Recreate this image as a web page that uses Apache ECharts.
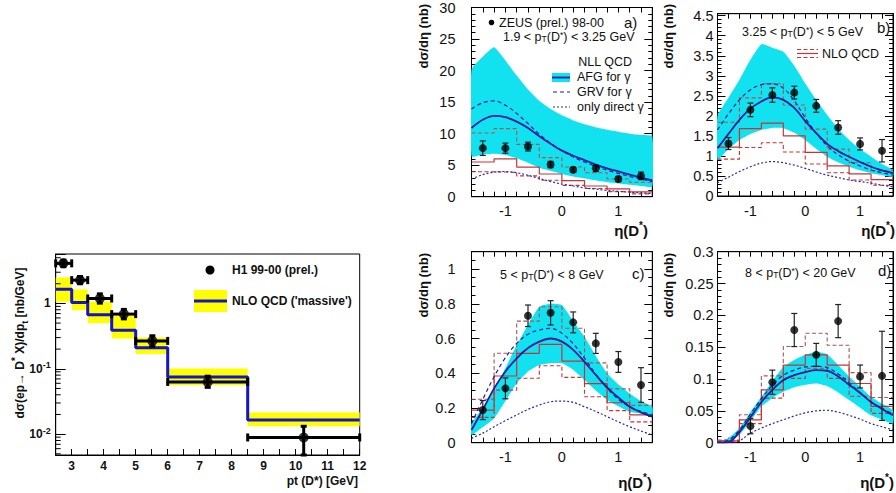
<!DOCTYPE html>
<html>
<head>
<meta charset="utf-8">
<script src="https://cdn.jsdelivr.net/npm/echarts@6.0.0/dist/echarts.min.js"></script>
<style>
html,body{margin:0;padding:0;background:#fff;}
#chart{width:896px;height:493px;}
</style>
</head>
<body>
<div id="chart"></div>
<script>
// ===================== DATA =====================
// ---- Left: H1 D* pt spectrum (log y) ----
const h1Edges   = [2.5, 3.0, 3.5, 4.25, 5.0, 6.0, 8.5, 12.0];
const h1X       = [2.74, 3.26, 3.88, 4.63, 5.52, 7.25, 10.25];
const h1Y       = [4.1, 2.27, 1.19, 0.686, 0.267, 0.063, 0.0089];
const h1ErrLo   = [3.65, 2.0, 1.01, 0.58, 0.222, 0.052, 0.0048];
const h1ErrHi   = [4.6, 2.58, 1.40, 0.81, 0.32, 0.077, 0.0132];
const nloMassive   = [1.64, 1.03, 0.67, 0.39, 0.21, 0.075, 0.0164];
const nloMassiveLo = [1.06, 0.79, 0.50, 0.29, 0.168, 0.056, 0.0132];
const nloMassiveHi = [2.5, 1.64, 1.06, 0.64, 0.30, 0.101, 0.0214];
const h1YMinorTicks = [0.005,0.006,0.007,0.008,0.009,0.02,0.03,0.04,0.05,0.06,0.07,0.08,0.09,
                       0.2,0.3,0.4,0.5,0.6,0.7,0.8,0.9,2,3,4,5];

// ---- ZEUS eta distributions ----
const etaEdges  = [-1.6, -1.2, -0.8, -0.4, 0, 0.4, 0.8, 1.2, 1.6];
const etaPoints = [-1.4, -1.0, -0.6, -0.2, 0.2, 0.6, 1.0, 1.4];
const etaCurve  = [-1.6,-1.4,-1.2,-1.0,-0.8,-0.6,-0.4,-0.2,0,0.2,0.4,0.6,0.8,1.0,1.2,1.4,1.6];

// panel a) 1.9 < pT < 3.25
const aY      = [7.7, 7.7, 7.95, 5.1, 4.26, 4.5, 2.8, 3.3];
const aErr    = [1.15, 0.8, 0.7, 0.5, 0.4, 0.5, 0.4, 0.6];
const aBandHi = [20.2,22.2,23.7,21.6,19.2,17.0,15.2,13.9,12.9,12.1,11.5,11.0,10.6,10.3,10.0,9.8,9.6];
const aBandLo = [6.4,6.7,6.8,6.6,6.1,5.4,4.6,4.1,3.6,3.2,2.9,2.6,2.3,2.1,1.9,1.7,1.6];
const aAFG    = [10.9,12.2,12.8,12.6,11.9,10.9,9.6,8.4,7.3,6.5,5.8,5.1,4.5,4.0,3.5,3.0,2.6];
const aGRV    = [13.9,14.9,15.2,14.5,13.2,11.6,9.9,8.5,7.3,6.3,5.5,4.8,4.2,3.7,3.2,2.8,2.4];
const aDirect = [2.8,3.5,3.9,4.0,3.8,3.4,2.9,2.4,2.0,1.7,1.4,1.2,1.0,0.85,0.7,0.6,0.5];
const aNLO    = [5.5, 6.0, 4.7, 3.6, 2.55, 1.7, 1.25, 0.75];
const aNLOUp  = [10.1, 10.8, 8.3, 6.2, 4.7, 3.8, 2.8, 2.3];
const aNLOLo  = [3.95, 3.85, 3.3, 2.6, 1.8, 1.3, 0.8, 0.45];

// panel b) 3.25 < pT < 5
const bY      = [1.31, 2.15, 2.52, 2.58, 2.25, 1.71, 1.30, 1.13];
const bErr    = [0.15, 0.17, 0.18, 0.16, 0.16, 0.17, 0.15, 0.28];
const bBandHi = [2.0,2.45,2.9,3.4,3.79,3.7,3.6,3.25,2.81,2.4,2.02,1.68,1.40,1.17,0.98,0.8,0.65];
const bBandLo = [0.9,1.17,1.4,1.55,1.65,1.7,1.69,1.58,1.4,1.18,0.98,0.84,0.73,0.64,0.57,0.52,0.48];
const bAFG    = [1.19,1.55,1.9,2.18,2.36,2.46,2.4,2.2,1.87,1.57,1.3,1.12,0.98,0.85,0.73,0.64,0.57];
const bGRV    = [1.65,2.05,2.4,2.65,2.78,2.8,2.69,2.38,1.95,1.57,1.25,1.03,0.87,0.75,0.65,0.58,0.52];
const bDirect = [0.33,0.47,0.61,0.73,0.82,0.86,0.83,0.77,0.69,0.6,0.52,0.46,0.4,0.36,0.32,0.27,0.23];
const bNLO    = [1.22, 1.68, 1.82, 1.50, 1.09, 0.75, 0.55, 0.41];
const bNLOUp  = [1.84, 2.45, 2.80, 2.27, 1.67, 1.17, 0.83, 0.63];
const bNLOLo  = [0.92, 1.21, 1.33, 1.10, 0.80, 0.58, 0.40, 0.27];

// panel c) 5 < pT < 8
const cY      = [0.188, 0.313, 0.731, 0.748, 0.693, 0.572, 0.465, 0.332];
const cErr    = [0.055, 0.06, 0.062, 0.07, 0.06, 0.058, 0.06, 0.1];
const cBandHi = [0.11,0.2,0.303,0.43,0.562,0.68,0.783,0.8,0.793,0.7,0.61,0.5,0.40,0.335,0.284,0.24,0.207];
const cBandLo = [0.044,0.09,0.14,0.24,0.342,0.41,0.447,0.457,0.457,0.42,0.361,0.3,0.246,0.21,0.178,0.167,0.16];
const cAFG    = [0.073,0.19,0.313,0.41,0.486,0.545,0.582,0.6,0.582,0.535,0.466,0.39,0.319,0.26,0.207,0.175,0.15];
const cGRV    = [0.11,0.25,0.38,0.49,0.572,0.625,0.649,0.659,0.63,0.57,0.486,0.395,0.313,0.25,0.207,0.18,0.16];
const cDirect = [0.025,0.055,0.092,0.127,0.16,0.192,0.217,0.236,0.24,0.232,0.207,0.18,0.15,0.12,0.092,0.067,0.044];
const cNLO    = [0.188, 0.384, 0.515, 0.566, 0.47, 0.34, 0.23, 0.16];
const cNLOUp  = [0.25, 0.515, 0.70, 0.783, 0.659, 0.46, 0.31, 0.215];
const cNLOLo  = [0.146, 0.303, 0.371, 0.443, 0.376, 0.265, 0.185, 0.12];

// panel d) 8 < pT < 20
const dEta    = [-1.0, -0.6, -0.2, 0.2, 0.6, 1.0, 1.4];
const dY      = [0.026, 0.095, 0.177, 0.138, 0.191, 0.104, 0.105];
const dErr    = [0.012, 0.019, 0.026, 0.018, 0.026, 0.018, 0.07];
const dBandHi = [0.002,0.007,0.023,0.048,0.072,0.097,0.119,0.13,0.138,0.143,0.139,0.122,0.104,0.088,0.072,0.061,0.051];
const dBandLo = [0,0.002,0.012,0.034,0.057,0.07,0.08,0.087,0.091,0.093,0.089,0.079,0.067,0.055,0.043,0.036,0.03];
const dAFG    = [0,0.001,0.017,0.04,0.064,0.083,0.098,0.106,0.111,0.114,0.113,0.104,0.091,0.078,0.064,0.053,0.043];
const dGRV    = [0,0.004,0.02,0.045,0.069,0.09,0.106,0.114,0.119,0.12,0.118,0.108,0.094,0.079,0.064,0.054,0.045];
const dDirect = [0,0,0.003,0.015,0.023,0.03,0.036,0.042,0.047,0.05,0.051,0.048,0.043,0.037,0.030,0.025,0.02];
const dNLO    = [0.003, 0.036, 0.083, 0.122, 0.138, 0.122, 0.093, 0.057];
const dNLOUp  = [0.004, 0.044, 0.105, 0.151, 0.172, 0.153, 0.11, 0.071];
const dNLOLo  = [0.002, 0.03, 0.07, 0.101, 0.117, 0.101, 0.073, 0.046];

// ===================== STYLES =====================
const FONT = '"Liberation Sans", Arial, Helvetica, sans-serif';
const CYAN = '#12e2ef';
const NAVY = '#1e1e9a';
const RED  = '#c83434';
const RED2 = '#a85656';
const BLK  = '#000';

// ===================== HELPERS =====================
const zip = (xs, ys) => xs.map((x, i) => [x, ys[i]]);
function histData(edges, vals) {
  const d = vals.map((v, i) => [edges[i], v]);
  d.push([edges[edges.length - 1], vals[vals.length - 1]]);
  return d;
}
function bandSeries(xi, yi, xs, lo, hi, color) {
  return {
    type: 'custom', xAxisIndex: xi, yAxisIndex: yi, z: 1, silent: true, clip: true,
    data: [[xs[0], lo[0]]],
    renderItem(params, api) {
      const pts = [];
      for (let i = 0; i < xs.length; i++) pts.push(api.coord([xs[i], hi[i]]));
      for (let i = xs.length - 1; i >= 0; i--) pts.push(api.coord([xs[i], lo[i]]));
      return { type: 'polygon', shape: { points: pts, smooth: 0.15 }, style: { fill: color, stroke: null } };
    }
  };
}
function histSeries(xi, yi, vals, color, dash, width) {
  return {
    type: 'line', xAxisIndex: xi, yAxisIndex: yi, step: 'end', symbol: 'none', z: 2, silent: true,
    data: histData(etaEdges, vals),
    lineStyle: { color, width: width || 1.1, type: dash ? [4, 2.5] : 'solid' }
  };
}
function curveSeries(xi, yi, vals, color, type, width) {
  return {
    type: 'line', xAxisIndex: xi, yAxisIndex: yi, smooth: 0.35, symbol: 'none', z: 3, silent: true,
    data: zip(etaCurve, vals), clip: true,
    lineStyle: { color, width: width || 1.2, type }
  };
}
function errSeries(xi, yi, xs, ys, errs) {
  return {
    type: 'custom', xAxisIndex: xi, yAxisIndex: yi, z: 4, silent: true, clip: false,
    data: xs.map((x, i) => [x, ys[i] - errs[i], ys[i] + errs[i]]),
    renderItem(params, api) {
      const lo = api.coord([api.value(0), api.value(1)]);
      const hi = api.coord([api.value(0), api.value(2)]);
      const st = { stroke: '#222', lineWidth: 1.2 };
      return { type: 'group', children: [
        { type: 'line', shape: { x1: lo[0], y1: lo[1], x2: hi[0], y2: hi[1] }, style: st },
        { type: 'line', shape: { x1: lo[0] - 3, y1: lo[1], x2: lo[0] + 3, y2: lo[1] }, style: st },
        { type: 'line', shape: { x1: hi[0] - 3, y1: hi[1], x2: hi[0] + 3, y2: hi[1] }, style: st }
      ]};
    }
  };
}
function pointSeries(xi, yi, xs, ys) {
  return { type: 'scatter', xAxisIndex: xi, yAxisIndex: yi, z: 5, silent: true,
    symbol: 'circle', symbolSize: 8, itemStyle: { color: BLK }, data: zip(xs, ys) };
}
function panelSeries(xi, yi, eta, P) {
  return [
    bandSeries(xi, yi, etaCurve, P.lo, P.hi, CYAN),
    histSeries(xi, yi, P.nloUp, RED2, true),
    histSeries(xi, yi, P.nloLo, RED, true),
    histSeries(xi, yi, P.nlo, RED, false, 1.2),
    curveSeries(xi, yi, P.direct, '#2a2aa8', [2, 2], 1.2),
    curveSeries(xi, yi, P.grv, NAVY, [4, 3], 1.2),
    curveSeries(xi, yi, P.afg, NAVY, 'solid', 1.8),
    errSeries(xi, yi, eta, P.y, P.err),
    pointSeries(xi, yi, eta, P.y)
  ];
}

const tickFont = { fontFamily: FONT, fontSize: 14.5, color: '#111' };
function xPair(gi) {
  const base = {
    type: 'value', gridIndex: gi, min: -1.6, max: 1.6, interval: 0.2,
    splitLine: { show: false },
    axisLine: { show: true, onZero: false, lineStyle: { color: BLK, width: 1 } },
    axisTick: { show: true, inside: true, length: 5, lineStyle: { color: BLK } }
  };
  return [
    Object.assign({}, base, { position: 'bottom',
      axisLabel: Object.assign({}, tickFont, { margin: 7,
        formatter: v => Math.abs(v - Math.round(v)) < 1e-6 ? String(Math.round(v)) : '' }) }),
    Object.assign({}, base, { position: 'top', axisLabel: { show: false } })
  ];
}
function yPair(gi, max, interval, minorSplit, margin) {
  const base = {
    type: 'value', gridIndex: gi, min: 0, max, interval,
    splitLine: { show: false },
    axisLine: { show: true, onZero: false, lineStyle: { color: BLK, width: 1 } },
    axisTick: { show: true, inside: true, length: 8, lineStyle: { color: BLK } },
    minorTick: { show: true, splitNumber: minorSplit, length: 4, lineStyle: { color: BLK } }
  };
  return [
    Object.assign({}, base, { position: 'left',
      axisLabel: Object.assign({}, tickFont, { margin,
        formatter: v => { const k = v / interval; return Math.abs(k - Math.round(k)) < 1e-6 ? String(+v.toFixed(4)) : ''; } }) }),
    Object.assign({}, base, { position: 'right', axisLabel: { show: false } })
  ];
}

// ===================== AXES =====================
const xAxes = [
  { type: 'value', gridIndex: 0, min: 2.5, max: 12, interval: 0.5,
    splitLine: { show: false },
    axisLine: { show: true, onZero: false, lineStyle: { color: BLK } },
    axisTick: { show: true, inside: true, length: 6, lineStyle: { color: BLK } },
    axisLabel: { fontFamily: FONT, fontSize: 12, fontWeight: 'bold', color: '#111', margin: 5, lineHeight: 12,
      formatter: v => Math.abs(v - Math.round(v)) < 1e-6 ? String(Math.round(v)) : '' } },
  ...xPair(1), ...xPair(2), ...xPair(3), ...xPair(4)
];
const yAxes = [
  { type: 'log', logBase: 10, gridIndex: 0, min: 0.0048, max: 5.7,
    splitLine: { show: false },
    axisLine: { show: true, onZero: false, lineStyle: { color: BLK } },
    axisTick: { show: true, inside: true, length: 10, lineStyle: { color: BLK } },
    axisLabel: { fontFamily: FONT, fontSize: 12, fontWeight: 'bold', color: '#111', margin: 5, lineHeight: 16,
      rich: { sup: { fontFamily: FONT, fontSize: 9, fontWeight: 'bold', color: '#111', verticalAlign: 'top', lineHeight: 16 } },
      formatter: v => {
        const e = Math.log10(v);
        if (Math.abs(e - Math.round(e)) > 1e-6) return '';
        const r = Math.round(e);
        return r === 0 ? '1' : '10{sup|' + r + '}';
      } } },
  ...yPair(1, 30, 5, 5, 16),
  ...yPair(2, 4.55, 0.5, 5, 4),
  ...yPair(3, 1.1, 0.2, 4, 16),
  ...yPair(4, 0.3, 0.05, 5, 4)
];

// ===================== SERIES =====================
const series = [
  // Left: yellow uncertainty boxes
  { type: 'custom', xAxisIndex: 0, yAxisIndex: 0, z: 1, silent: true, clip: true,
    data: nloMassive.map((v, i) => [h1Edges[i], h1Edges[i + 1], nloMassiveLo[i], nloMassiveHi[i]]),
    renderItem(params, api) {
      const p1 = api.coord([api.value(0), api.value(3)]);
      const p2 = api.coord([api.value(1), api.value(2)]);
      return { type: 'rect', shape: { x: p1[0], y: p1[1], width: p2[0] - p1[0], height: p2[1] - p1[1] },
        style: { fill: '#ffff00' } };
    } },
  // Left: NLO massive step line
  { type: 'line', xAxisIndex: 0, yAxisIndex: 0, step: 'end', symbol: 'none', z: 2, silent: true,
    data: histData(h1Edges, nloMassive), lineStyle: { color: '#1414c8', width: 3 } },
  // Left: H1 error bars
  { type: 'custom', xAxisIndex: 0, yAxisIndex: 0, z: 3, silent: true, clip: false,
    data: h1X.map((x, i) => [x, h1Y[i], h1Edges[i], h1Edges[i + 1], h1ErrLo[i], h1ErrHi[i]]),
    renderItem(params, api) {
      const c = api.coord([api.value(0), api.value(1)]);
      const l = api.coord([api.value(2), api.value(1)]);
      const r = api.coord([api.value(3), api.value(1)]);
      const lo = api.coord([api.value(0), api.value(4)]);
      const hi = api.coord([api.value(0), api.value(5)]);
      const st = { stroke: BLK, lineWidth: 3 };
      return { type: 'group', children: [
        { type: 'line', shape: { x1: l[0], y1: c[1], x2: r[0], y2: c[1] }, style: st },
        { type: 'line', shape: { x1: l[0], y1: c[1] - 4, x2: l[0], y2: c[1] + 4 }, style: st },
        { type: 'line', shape: { x1: r[0], y1: c[1] - 4, x2: r[0], y2: c[1] + 4 }, style: st },
        { type: 'line', shape: { x1: c[0], y1: hi[1], x2: c[0], y2: lo[1] }, style: st },
        { type: 'line', shape: { x1: c[0] - 3, y1: hi[1], x2: c[0] + 3, y2: hi[1] }, style: st },
        { type: 'line', shape: { x1: c[0] - 3, y1: lo[1], x2: c[0] + 3, y2: lo[1] }, style: st }
      ]};
    } },
  // Left: H1 points
  { type: 'scatter', xAxisIndex: 0, yAxisIndex: 0, z: 4, silent: true, symbol: 'circle', symbolSize: 10,
    itemStyle: { color: BLK }, data: zip(h1X, h1Y) },
  // Left: log minor ticks
  { type: 'custom', xAxisIndex: 0, yAxisIndex: 0, z: 6, silent: true, clip: false,
    data: h1YMinorTicks.map(v => [2.5, v]),
    renderItem(params, api) {
      const p = api.coord([api.value(0), api.value(1)]);
      return { type: 'line', shape: { x1: p[0], y1: p[1], x2: p[0] + 5, y2: p[1] }, style: { stroke: BLK, lineWidth: 1 } };
    } },
  ...panelSeries(1, 1, etaPoints, { lo: aBandLo, hi: aBandHi, afg: aAFG, grv: aGRV, direct: aDirect, nlo: aNLO, nloUp: aNLOUp, nloLo: aNLOLo, y: aY, err: aErr }),
  ...panelSeries(3, 3, etaPoints, { lo: bBandLo, hi: bBandHi, afg: bAFG, grv: bGRV, direct: bDirect, nlo: bNLO, nloUp: bNLOUp, nloLo: bNLOLo, y: bY, err: bErr }),
  ...panelSeries(5, 5, etaPoints, { lo: cBandLo, hi: cBandHi, afg: cAFG, grv: cGRV, direct: cDirect, nlo: cNLO, nloUp: cNLOUp, nloLo: cNLOLo, y: cY, err: cErr }),
  ...panelSeries(7, 7, dEta,      { lo: dBandLo, hi: dBandHi, afg: dAFG, grv: dGRV, direct: dDirect, nlo: dNLO, nloUp: dNLOUp, nloLo: dNLOLo, y: dY, err: dErr })
];

// ===================== TEXT / LEGENDS =====================
const subsup = {
  sub: { fontFamily: FONT, fontSize: 8.5, verticalAlign: 'bottom', lineHeight: 13, fill: '#111' },
  sup: { fontFamily: FONT, fontSize: 8.5, verticalAlign: 'top', lineHeight: 13, fill: '#111' }
};
const subsupB = {
  sub: { fontFamily: FONT, fontSize: 9, fontWeight: 'bold', verticalAlign: 'bottom', lineHeight: 17, fill: '#111' },
  sup: { fontFamily: FONT, fontSize: 10, fontWeight: 'bold', verticalAlign: 'top', lineHeight: 19, fill: '#111' }
};
function txt(text, x, y, o) {
  o = o || {};
  return { type: 'text', x, y, rotation: o.rot || 0, z: 100, silent: true,
    style: { text, fill: '#111', font: o.font || ('12.5px ' + FONT), align: o.align || 'left',
      verticalAlign: o.valign || 'middle', lineHeight: o.lh || 13, rich: o.rich } };
}
const bold12 = 'bold 12px ' + FONT;
const bold13 = 'bold 13px ' + FONT;
const bold15 = 'bold 15px ' + FONT;
const reg15 = '15px ' + FONT;

const graphic = [
  // left plot
  txt('dσ(ep→ D{sup|*} X)/dp{sub|t} [nb/GeV]', 20, 343, { rot: Math.PI / 2, align: 'center', font: bold12, rich: subsupB, lh: 17 }),
  txt('pt (D*) [GeV]', 358, 481, { align: 'right', font: bold12, lh: 12 }),
  { type: 'circle', shape: { cx: 210, cy: 270, r: 4.5 }, style: { fill: BLK }, z: 100, silent: true },
  txt('H1 99-00 (prel.)', 232, 270, { font: bold12 }),
  { type: 'rect', shape: { x: 194, y: 290, width: 33, height: 22 }, style: { fill: '#ffff00' }, z: 99, silent: true },
  { type: 'line', shape: { x1: 194, y1: 301, x2: 227, y2: 301 }, style: { stroke: '#1414c8', lineWidth: 3 }, z: 100, silent: true },
  txt("NLO QCD ('massive')", 232, 301, { font: bold12 }),

  // panel a
  txt('dσ/dη (nb)', 423, 4, { rot: Math.PI / 2, align: 'right', font: bold13 }),
  { type: 'circle', shape: { cx: 491.5, cy: 22.5, r: 2.8 }, style: { fill: BLK }, z: 100, silent: true },
  txt('ZEUS (prel.) 98-00', 499, 22.5),
  txt('a)', 624, 22, { font: reg15, lh: 15 }),
  txt('1.9 < p{sub|T}(D{sup|*}) < 3.25 GeV', 503, 36.5, { rich: subsup }),
  txt('NLL QCD', 632, 62, { align: 'right' }),
  { type: 'rect', shape: { x: 552, y: 73, width: 18, height: 9 }, style: { fill: CYAN }, z: 99, silent: true },
  { type: 'line', shape: { x1: 552, y1: 77.5, x2: 570, y2: 77.5 }, style: { stroke: NAVY, lineWidth: 1.8 }, z: 100, silent: true },
  txt('AFG for γ', 577, 77),
  { type: 'line', shape: { x1: 553, y1: 92, x2: 570, y2: 92 }, style: { stroke: NAVY, lineWidth: 1.2, lineDash: [4, 3] }, z: 100, silent: true },
  txt('GRV for γ', 577, 92),
  { type: 'line', shape: { x1: 553, y1: 107, x2: 570, y2: 107 }, style: { stroke: '#2a2aa8', lineWidth: 1.2, lineDash: [2, 2] }, z: 100, silent: true },
  txt('only direct γ', 577, 107),
  txt('η(D{sup|*})', 648, 230, { align: 'right', font: bold15, rich: subsupB, lh: 17 }),

  // panel b
  txt('dσ/dη (nb)', 668, 4, { rot: Math.PI / 2, align: 'right', font: bold13 }),
  txt('3.25 < p{sub|T}(D{sup|*}) < 5 GeV', 742, 32, { rich: subsup }),
  txt('b)', 877, 27, { font: reg15, lh: 15 }),
  { type: 'line', shape: { x1: 797, y1: 49.5, x2: 818, y2: 49.5 }, style: { stroke: RED, lineWidth: 1.1, lineDash: [4, 2.5] }, z: 100, silent: true },
  { type: 'line', shape: { x1: 797, y1: 53.5, x2: 818, y2: 53.5 }, style: { stroke: RED, lineWidth: 1.2 }, z: 100, silent: true },
  { type: 'line', shape: { x1: 797, y1: 57.5, x2: 818, y2: 57.5 }, style: { stroke: RED, lineWidth: 1.1, lineDash: [4, 2.5] }, z: 100, silent: true },
  txt('NLO QCD', 822, 53.5),
  txt('η(D{sup|*})', 895, 230, { align: 'right', font: bold15, rich: subsupB, lh: 17 }),

  // panel c
  txt('dσ/dη (nb)', 423, 253, { rot: Math.PI / 2, align: 'right', font: bold13 }),
  txt('5 < p{sub|T}(D{sup|*}) < 8 GeV', 500, 275, { rich: subsup }),
  txt('c)', 632, 273, { font: reg15, lh: 15 }),
  txt('η(D{sup|*})', 652, 482, { align: 'right', font: bold15, rich: subsupB, lh: 17 }),

  // panel d
  txt('dσ/dη (nb)', 668, 253, { rot: Math.PI / 2, align: 'right', font: bold13 }),
  txt('8 < p{sub|T}(D{sup|*}) < 20 GeV', 745, 273, { rich: subsup }),
  txt('d)', 878, 270, { font: reg15, lh: 15 }),
  txt('η(D{sup|*})', 894, 482, { align: 'right', font: bold15, rich: subsupB, lh: 17 })
];

const gridBase = { show: true, borderColor: BLK, borderWidth: 1, backgroundColor: 'transparent', containLabel: false };
const option = {
  animation: false,
  backgroundColor: '#fff',
  grid: [
    Object.assign({}, gridBase, { left: 55.7, top: 254, width: 304, height: 201 }),
    Object.assign({}, gridBase, { left: 471.5, top: 1.7, width: 180.8, height: 195 }),
    Object.assign({}, gridBase, { left: 717.5, top: 13.7, width: 180.8, height: 182.3 }),
    Object.assign({}, gridBase, { left: 471.5, top: 251.7, width: 180.8, height: 191 }),
    Object.assign({}, gridBase, { left: 717.5, top: 251.7, width: 180.8, height: 191 })
  ],
  xAxis: xAxes,
  yAxis: yAxes,
  series,
  graphic
};

const chart = echarts.init(document.getElementById('chart'), null, { renderer: 'svg', width: 896, height: 493 });
chart.setOption(option);
</script>
</body>
</html>
